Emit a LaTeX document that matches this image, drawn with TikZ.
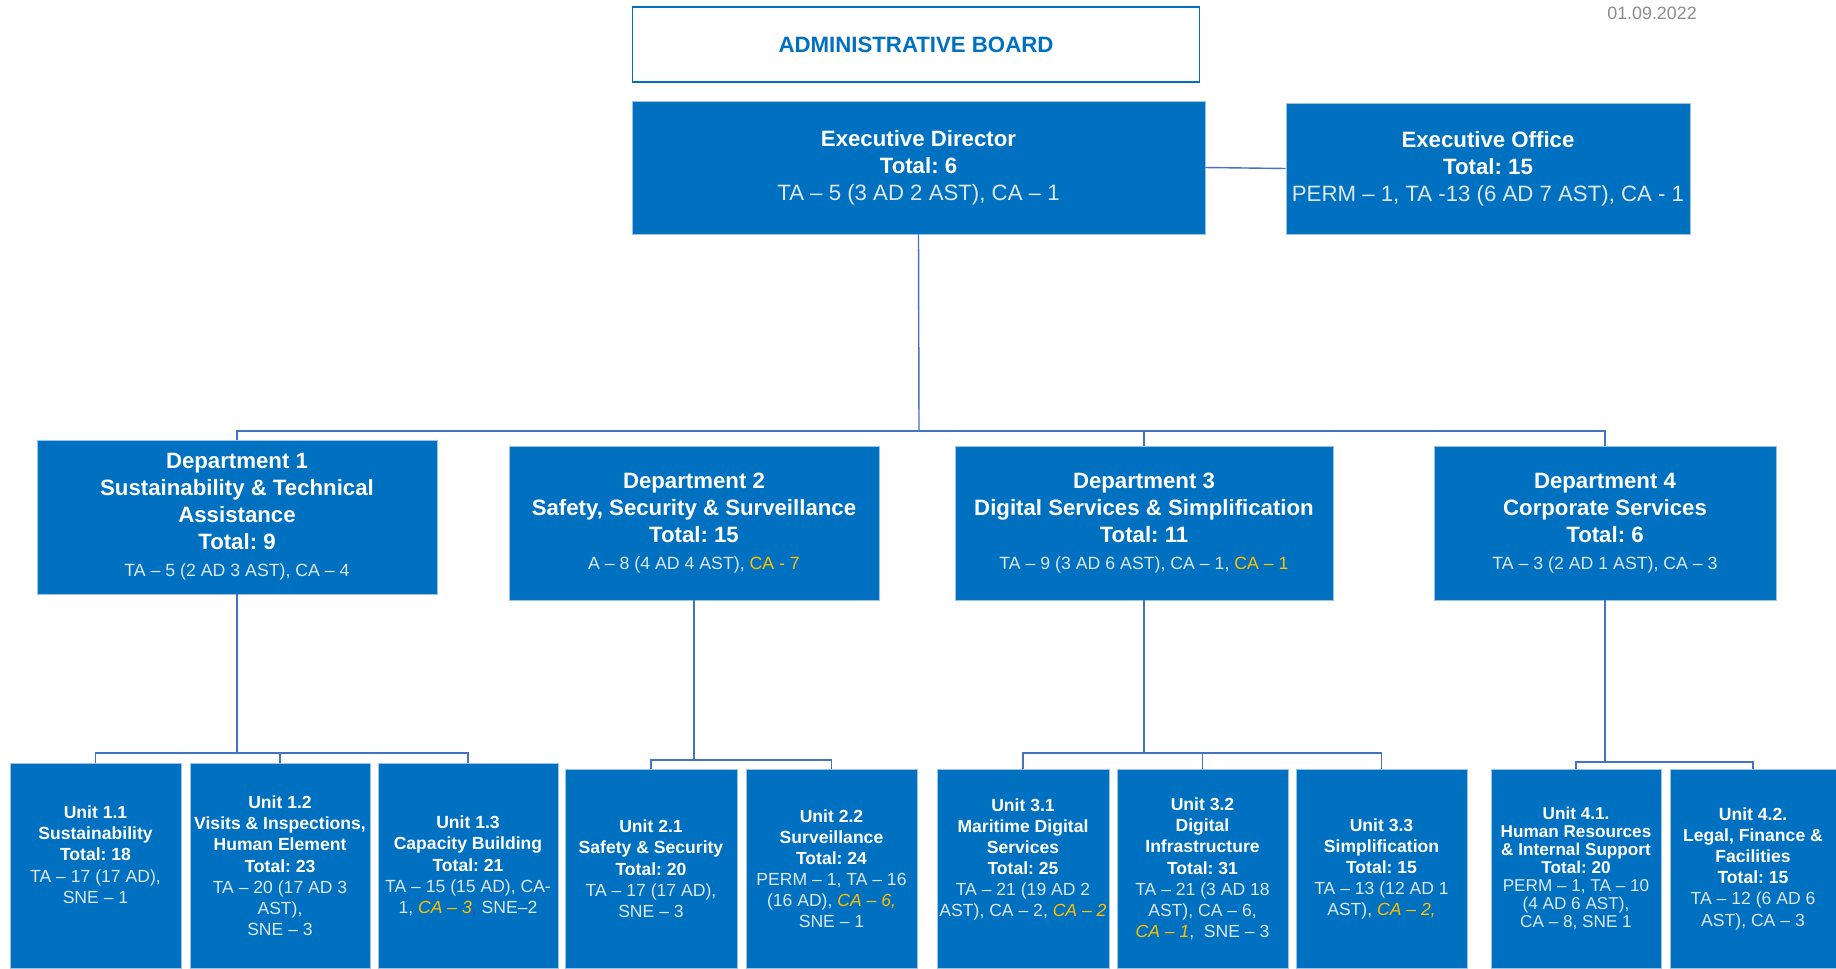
\documentclass[tikz,border=0pt]{standalone}
\usepackage{fontspec}
\setmainfont{Liberation Sans}
\usepackage{tikz}
\usetikzlibrary{positioning}
\definecolor{boxblue}{HTML}{0070C0}
\definecolor{linkblue}{HTML}{4472C4}
\definecolor{softwhite}{HTML}{DDE8F3}
\definecolor{gold}{HTML}{FFC000}
\definecolor{dategrey}{HTML}{8C8C8C}
\definecolor{edgeblue}{HTML}{9DC3E6}
\definecolor{commapurple}{HTML}{7030A0}
\frenchspacing
\newdimen\px \px=0.025cm
\newcommand{\subtxt}[1]{{\mdseries\color{softwhite}#1}}
\newcommand{\ylw}[1]{\textcolor{gold}{#1}}
\newcommand{\ylwit}[1]{\textcolor{gold}{\itshape #1}}
\tikzstyle{headbox}=[fill=boxblue, draw=edgeblue, align=center, text=white, inner sep=0pt,
        font=\bfseries\fontsize{15.8}{19.2}\selectfont]
\tikzstyle{deptbox}=[headbox, font=\bfseries\fontsize{15.8}{19.2}\selectfont]
\tikzstyle{unitbox}=[headbox, anchor=north, font=\bfseries\fontsize{12.5}{15}\selectfont]
\tikzstyle{link}=[draw=linkblue, line width=1pt]

\begin{document}
\begin{tikzpicture}[x=0.025cm, y=-0.025cm]
        \useasboundingbox (0,0) rectangle (1836,968);

        \node[draw=boxblue, line width=1.4pt, fill=white, text=boxblue, font=\bfseries\fontsize{15.8}{18}\selectfont,
            minimum width=567\px, minimum height=75\px] (board) at (916,44.5) {ADMINISTRATIVE BOARD};
        \node[text=dategrey, font=\fontsize{12.7}{14}\selectfont] (date) at (1652,13) {01.09.2022};

        \node[headbox, minimum width=573\px, minimum height=133\px] (ed) at (918.5,167.5)
            {Executive Director\\Total: 6\\\subtxt{TA – 5 (3 AD 2 AST), CA – 1}};
        \node[headbox, minimum width=404\px, minimum height=131\px] (eo) at (1488,168.5)
            {Executive Office\\Total: 15\\\subtxt{PERM – 1, TA -13 (6 AD 7 AST), CA - 1}};

        \node[deptbox, minimum width=400\px, minimum height=154\px] (d1) at (237,517)
            {Department 1\\Sustainability \& Technical\\Assistance\\Total: 9\\
            \subtxt{\fontsize{12.6}{15}\selectfont TA – 5 (2 AD 3 AST), CA – 4}};
        \node[deptbox, minimum width=370\px, minimum height=154\px] (d2) at (694,523)
            {Department 2\\Safety, Security \& Surveillance\\Total: 15\\
            \subtxt{\fontsize{12.6}{15}\selectfont A – 8 (4 AD 4 AST), \ylw{CA - 7}}};
        \node[deptbox, minimum width=378\px, minimum height=154\px] (d3) at (1144,523)
            {Department 3\\Digital Services \& Simplification\\Total: 11\\
            \subtxt{\fontsize{12.6}{15}\selectfont TA – 9 (3 AD 6 AST), CA – 1, \ylw{CA – 1}}};
        \node[deptbox, minimum width=342\px, minimum height=154\px] (d4) at (1605,523)
            {Department 4\\Corporate Services\\Total: 6\\
            \subtxt{\fontsize{12.6}{15}\selectfont TA – 3 (2 AD 1 AST), CA – 3}};

        \node[unitbox, minimum width=171\px, minimum height=205\px, text depth=16pt] (u11) at (95.5,763)
            {Unit 1.1\\Sustainability\\Total: 18\\\subtxt{TA – 17 (17 AD),}\\\subtxt{SNE – 1}};
        \node[unitbox, minimum width=180\px, minimum height=205\px] (u12) at (280,763)
            {Unit 1.2\\Visits \& Inspections,\\Human Element\\Total: 23\\\subtxt{TA – 20 (17 AD 3}\\
            \subtxt{AST),}\\\subtxt{SNE – 3}};
        \node[unitbox, minimum width=180\px, minimum height=205\px] (u13) at (468,763)
            {Unit 1.3\\Capacity Building\\Total: 21\\\subtxt{TA – 15 (15 AD), CA-}\\
            \subtxt{1, \ylwit{CA – 3}\textcolor{commapurple}{,} SNE–2}};
        \node[unitbox, minimum width=172\px, minimum height=199\px] (u21) at (651,769)
            {Unit 2.1\\Safety \& Security\\Total: 20\\\subtxt{TA – 17 (17 AD),}\\\subtxt{SNE – 3}};
        \node[unitbox, minimum width=171\px, minimum height=199\px] (u22) at (831.5,769)
            {Unit 2.2\\Surveillance\\Total: 24\\\subtxt{PERM – 1, TA – 16}\\
            \subtxt{(16 AD), \ylwit{CA – 6,}}\\\subtxt{SNE – 1}};
        \node[unitbox, minimum width=172\px, minimum height=199\px, text depth=16pt] (u31) at (1023,769)
            {Unit 3.1\\Maritime Digital\\Services\\Total: 25\\\subtxt{TA – 21 (19 AD 2}\\
            \subtxt{AST), CA – 2, \ylwit{CA – 2}}};
        \node[unitbox, minimum width=171\px, minimum height=199\px] (u32) at (1202.5,769)
            {Unit 3.2\\Digital\\Infrastructure\\Total: 31\\\subtxt{TA – 21 (3 AD 18}\\
            \subtxt{AST), CA – 6,}\\\subtxt{\ylwit{CA – 1},\ \ SNE – 3}};
        \node[unitbox, minimum width=171\px, minimum height=199\px] (u33) at (1381.5,769)
            {Unit 3.3\\Simplification\\Total: 15\\\subtxt{TA – 13 (12 AD 1}\\\subtxt{AST), \ylwit{CA – 2,}}};
        \node[unitbox, minimum width=170\px, minimum height=199\px,
            font=\bfseries\fontsize{12.2}{12.8}\selectfont] (u41) at (1576,769)
            {Unit 4.1.\\Human Resources\\\& Internal Support\\Total: 20\\\subtxt{PERM – 1, TA – 10}\\
            \subtxt{(4 AD 6 AST),}\\\subtxt{CA – 8, SNE 1}};
        \node[unitbox, minimum width=166\px, minimum height=199\px] (u42) at (1753,769)
            {Unit 4.2.\\Legal, Finance \&\\Facilities\\Total: 15\\\subtxt{TA – 12 (6 AD 6}\\\subtxt{AST), CA – 3}};

        \coordinate (bus0) at (919,431);
        \coordinate (bus1) at (237,753);
        \coordinate (bus2) at (694,760);
        \coordinate (bus3) at (1144,753);
        \coordinate (bus4) at (1605,762);

        \draw[link] (ed.east) to (eo.west);
        \draw[link] (ed.south) to (bus0);
        \draw[link] (d1.north) |- (bus0) -| (d4.north);
        \draw[link] (d3.north) to (d3.north |- bus0);

        \draw[link] (d1.south) to (bus1);
        \draw[link] (u11.north) |- (bus1) -| (u13.north);
        \draw[link] (u12.north) to (u12.north |- bus1);
        \draw[link] (d2.south) to (bus2);
        \draw[link] (u21.north) |- (bus2) -| (u22.north);
        \draw[link] (d3.south) to (bus3);
        \draw[link] (u31.north) |- (bus3) -| (u33.north);
        \draw[link] (u32.north) to (u32.north |- bus3);
        \draw[link] (d4.south) to (bus4);
        \draw[link] (u41.north) |- (bus4) -| (u42.north);

    \end{tikzpicture}
\end{document}
